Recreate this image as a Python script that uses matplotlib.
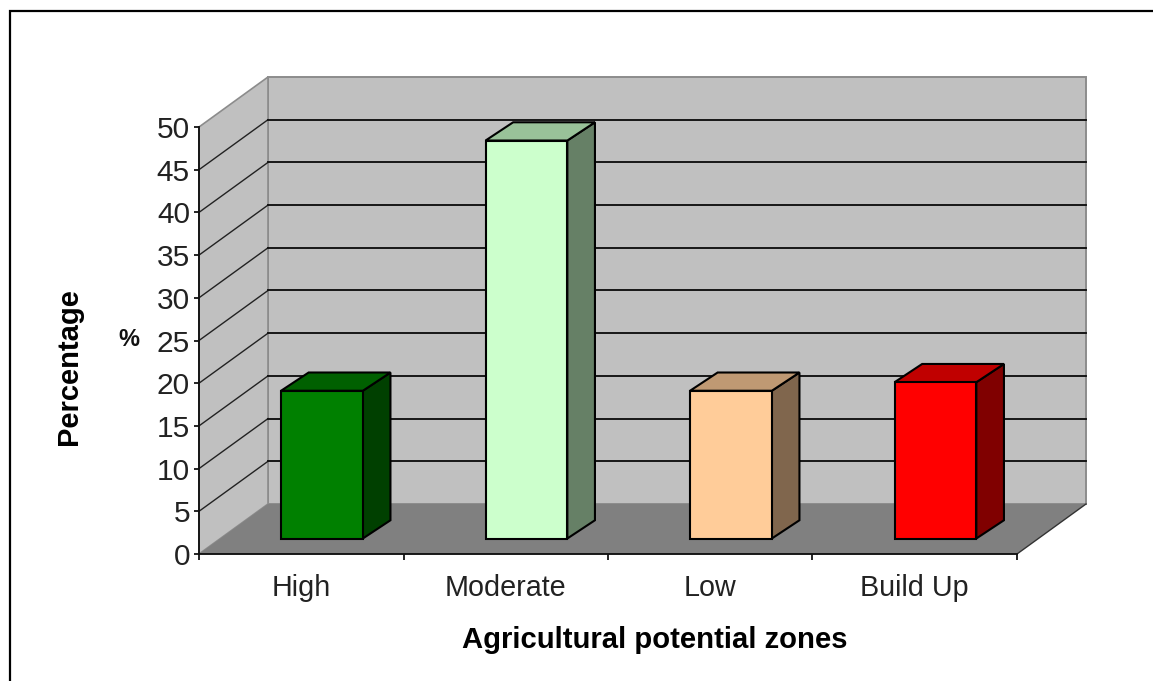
import matplotlib
matplotlib.use('Agg')
import matplotlib.pyplot as plt
from matplotlib.lines import Line2D
from matplotlib.patches import Polygon

plt.rcParams['font.family'] = ['Liberation Sans', 'DejaVu Sans']

# data
zones = ['High', 'Moderate', 'Low', 'Build Up']
percent = [17.3, 46.6, 17.3, 18.3]
front_colors = ['#008000', '#CCFFCC', '#FFCC99', '#FF0000']
top_colors = ['#006000', '#99C299', '#BF9973', '#C00000']
side_colors = ['#004000', '#668066', '#80664D', '#800000']
y_ticks = [0, 5, 10, 15, 20, 25, 30, 35, 40, 45, 50]

W, H = 1153, 681
fig = plt.figure(figsize=(W / 100, H / 100), dpi=100)
ax = fig.add_axes([199 / W, 1 - 554 / H, 818 / W, 427 / H])
ax.set_xlim(0, 4)
ax.set_ylim(0, 50)

# depth of the 3d box in data units (69px right, 50px up at the back wall)
depth_x = 69 / 818 * 4
depth_y = 50 / 427 * 50


def pt(x, v, dx=0.0, dy=None):
    if dy is None:
        dy = dx
    return (x + dx * depth_x, v + dy * depth_y)


def box_face(pts, color, edge='none', lw=0.0, z=1):
    ax.add_patch(Polygon(pts, closed=True, facecolor=color, edgecolor=edge,
                         linewidth=lw, clip_on=False, zorder=z, joinstyle='miter'))


# walls and floor
box_face([pt(0, 0, 1), pt(4, 0, 1), pt(4, 50, 1), pt(0, 50, 1)], '#C0C0C0', '#8C8C8C', 1.4, 1)
box_face([pt(0, 0), pt(0, 0, 1), pt(0, 50, 1), pt(0, 50)], '#C0C0C0', '#8C8C8C', 1.2, 1)
box_face([pt(0, 0), pt(4, 0), pt(4, 0, 1), pt(0, 0, 1)], '#808080', z=2)

# grid lines on the side wall and back wall
for v in y_ticks[1:-1]:
    a, b = pt(0, v), pt(0, v, 1)
    c = pt(4, v, 1)
    ax.plot([a[0], b[0]], [a[1], b[1]], color='#222222', lw=1.0, clip_on=False, zorder=3)
    ax.plot([b[0], c[0]], [b[1], c[1]], color='#111111', lw=1.35, clip_on=False, zorder=3)
a, b = pt(4, 0), pt(4, 0, 1)
ax.plot([a[0], b[0]], [a[1], b[1]], color='#333333', lw=1.0, clip_on=False, zorder=3)

# bars
bar_w = 0.4
near_x, near_y = 0.30, 0.31
far_x, far_y = 0.70, 0.675
for i, v in enumerate(percent):
    x0 = i + 0.5 - bar_w / 2
    x1 = x0 + bar_w
    box_face([pt(x1, 0, near_x, near_y), pt(x1, 0, far_x, far_y),
              pt(x1, v, far_x, far_y), pt(x1, v, near_x, near_y)],
             side_colors[i], 'black', 1.5, 4)
    box_face([pt(x0, v, near_x, near_y), pt(x1, v, near_x, near_y),
              pt(x1, v, far_x, far_y), pt(x0, v, far_x, far_y)],
             top_colors[i], 'black', 1.5, 4)
    box_face([pt(x0, 0, near_x, near_y), pt(x1, 0, near_x, near_y),
              pt(x1, v, near_x, near_y), pt(x0, v, near_x, near_y)],
             front_colors[i], 'black', 1.5, 5)

# axes
for s in ['top', 'right']:
    ax.spines[s].set_visible(False)
for s in ['left', 'bottom']:
    ax.spines[s].set_linewidth(1.35)
    ax.spines[s].set_color('#111111')
    ax.spines[s].set_zorder(6)
ax.patch.set_visible(False)
ax.set_yticks(y_ticks)
ax.set_xticks(range(len(zones) + 1))
ax.set_xticklabels([])
ax.set_xticks([i + 0.5 for i in range(len(zones))], minor=True)
ax.set_xticklabels(zones, minor=True, fontsize=20.7, color='#222222')
ax.tick_params(axis='y', length=3.5, width=1.2, labelsize=21.5, pad=3, labelcolor='#222222')
ax.tick_params(axis='x', which='major', length=4, width=1.2)
ax.tick_params(axis='x', which='minor', length=0, pad=14.5)

# labels
fig.text(655 / W, 1 - 639.5 / H, 'Agricultural potential zones', fontsize=21.1, fontweight='bold',
         ha='center', va='center', color='black')
fig.text(69 / W, 1 - 366.5 / H, 'Percentage', fontsize=21, fontweight='bold', rotation=90,
         ha='center', va='center', color='black')
fig.text(128.5 / W, 1 - 339 / H, '%', fontsize=17, fontweight='bold',
         ha='center', va='center', color='#111111')

# outer frame, only left and top are in the picture
fig.add_artist(Line2D([10.5 / W, 10.5 / W, 1], [0, 1 - 10.5 / H, 1 - 10.5 / H],
                      color='black', lw=1.6, solid_joinstyle='miter'))

fig.savefig('out.png', dpi=100)
